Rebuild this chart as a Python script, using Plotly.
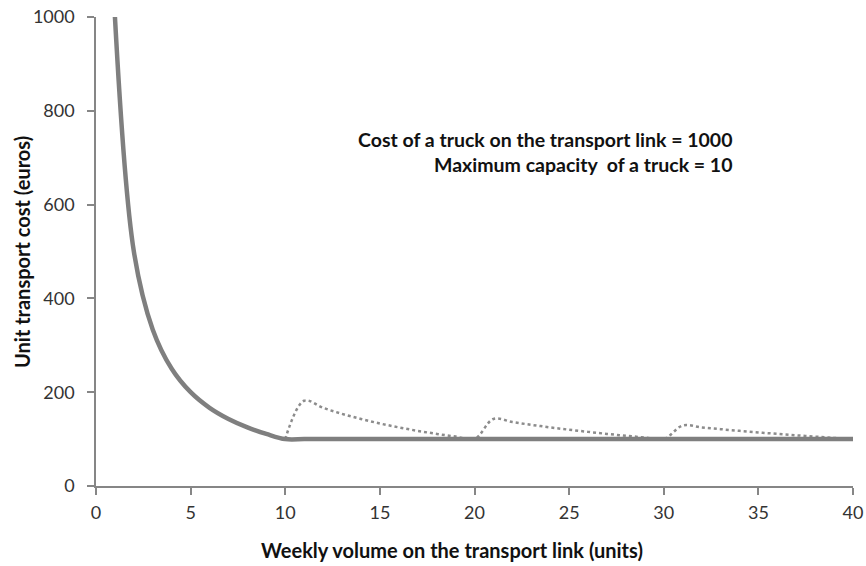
import plotly.graph_objects as go

# Solid line: unit cost with optimal fleet (volume, cost)
solid_x = [1, 2, 3, 4, 5, 6, 7, 8, 9, 10, 11, 12, 13, 14, 15, 16, 17, 18, 19, 20,
           21, 22, 23, 24, 25, 26, 27, 28, 29, 30, 31, 32, 33, 34, 35, 36, 37, 38, 39, 40]
solid_y = [1000, 500, 333.3, 250, 200, 166.7, 142.9, 125, 111.1, 100,
           100, 100, 100, 100, 100, 100, 100, 100, 100, 100,
           100, 100, 100, 100, 100, 100, 100, 100, 100, 100,
           100, 100, 100, 100, 100, 100, 100, 100, 100, 100]

# Dotted line: unit cost with whole trucks
dotted_x = [10, 11, 12, 13, 14, 15, 16, 17, 18, 19, 20,
            21, 22, 23, 24, 25, 26, 27, 28, 29, 30,
            31, 32, 33, 34, 35, 36, 37, 38, 39, 40]
dotted_y = [100, 181.8, 166.7, 153.8, 142.9, 133.3, 125, 117.6, 111.1, 105.3, 100,
            142.9, 136.4, 130.4, 125, 120, 115.4, 111.1, 107.1, 103.4, 100,
            129.0, 125, 121.2, 117.6, 114.3, 111.1, 108.1, 105.3, 102.6, 100]

x_ticks = [0, 5, 10, 15, 20, 25, 30, 35, 40]
y_ticks = [0, 200, 400, 600, 800, 1000]

FONT = "Lato"
W, H = 866, 566
# plot area in page pixels
PX0, PX1, PY0, PY1 = 96, 853, 17, 486
L, R, T, B = PX0, W - PX1, PY0, H - PY1
PW, PH = PX1 - PX0, PY1 - PY0


def px(xabs):
    return (xabs - PX0) / PW


def py(yabs):
    return (PY1 - yabs) / PH


fig = go.Figure()
fig.add_trace(go.Scatter(x=dotted_x, y=dotted_y, mode="lines",
                         line=dict(color="#8c8c8c", width=2.5, dash="dot", shape="spline", smoothing=1.0),
                         hoverinfo="skip", showlegend=False))
fig.add_trace(go.Scatter(x=solid_x, y=solid_y, mode="lines",
                         line=dict(color="#7f7f7f", width=4.5, shape="spline", smoothing=1.0),
                         hoverinfo="skip", showlegend=False))

axis_common = dict(showgrid=False, zeroline=False, automargin=False,
                   showline=True, linecolor="#868686", linewidth=1.5,
                   ticks="outside", ticklen=7, tickcolor="#868686", tickwidth=1.5,
                   ticklabeloverflow="allow",
                   tickfont=dict(family=FONT, size=18, color="#333333"))

fig.update_layout(
    width=W, height=H,
    margin=dict(l=L, r=R, t=T, b=B),
    plot_bgcolor="white", paper_bgcolor="white",
    font=dict(family=FONT, size=18, color="#222222"),
    xaxis=dict(range=[0, 40], tickvals=x_ticks, ticklabelstandoff=3, **axis_common),
    yaxis=dict(range=[0, 1000], tickvals=y_ticks, ticklabelstandoff=9, **axis_common),
    annotations=[
        dict(text="<b>Weekly volume on the transport link (units)</b>", xref="paper", yref="paper",
             x=px(452), y=py(550), xanchor="center", yanchor="middle",
             showarrow=False, font=dict(family=FONT, size=20, color="#111111")),
        dict(text="<b>Unit transport cost (euros)</b>", xref="paper", yref="paper",
             x=px(22), y=py(252), xanchor="center", yanchor="middle",
             textangle=-90, showarrow=False, font=dict(family=FONT, size=20, color="#111111")),
        dict(text="<b>Cost of a truck on the transport link = 1000</b><br><b>Maximum capacity  of a truck = 10</b>",
             xref="paper", yref="paper", align="right",
             x=px(735), y=py(152), xanchor="right", yanchor="middle",
             showarrow=False, font=dict(family=FONT, size=19.5, color="#111111")),
    ],
)

fig.write_html("out.html",
               config={"displayModeBar": False},
               post_script="document.body.style.margin='0';document.body.style.overflow='hidden';")
